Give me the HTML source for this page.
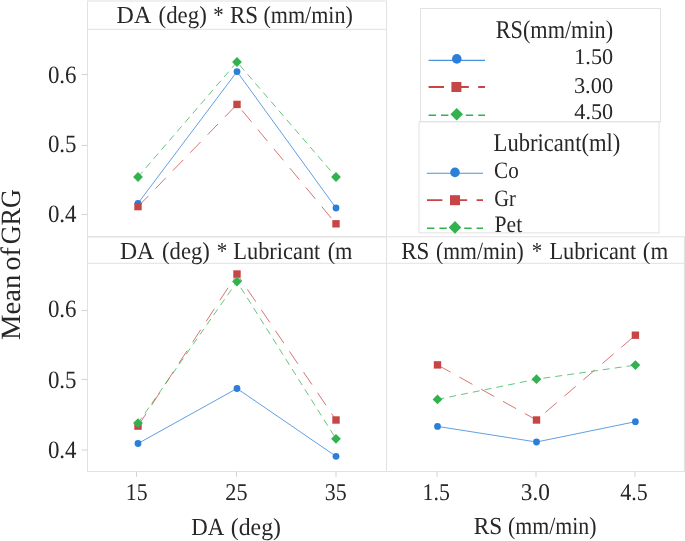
<!DOCTYPE html>
<html><head><meta charset="utf-8"><style>
html,body{margin:0;padding:0;background:#fff;width:685px;height:541px;overflow:hidden}
</style></head><body>
<svg width="685" height="541" viewBox="0 0 685 541" style="display:block;text-rendering:geometricPrecision">
<rect x="0" y="0" width="685" height="541" fill="#fff"/>
<g fill="none" stroke="#e2e2e2" stroke-width="1">
<rect x="87.5" y="1.0" width="299.0" height="235.8"/>
<line x1="87.5" y1="29.3" x2="386.5" y2="29.3"/>
<rect x="87.5" y="236.8" width="299.0" height="234.7"/>
<rect x="386.5" y="236.8" width="297.9" height="234.7"/>
<line x1="87.5" y1="263.3" x2="684.4" y2="263.3"/>
<rect x="420.5" y="8.5" width="240" height="113.2"/>
<rect x="419" y="121.7" width="240" height="111.2"/>
</g>
<g stroke="#d3d3d3" stroke-width="1">
<line x1="81.6" y1="74.5" x2="87.5" y2="74.5"/>
<line x1="81.6" y1="145.4" x2="87.5" y2="145.4"/>
<line x1="81.6" y1="214.4" x2="87.5" y2="214.4"/>
<line x1="81.6" y1="310.4" x2="87.5" y2="310.4"/>
<line x1="81.6" y1="379.4" x2="87.5" y2="379.4"/>
<line x1="81.6" y1="450.0" x2="87.5" y2="450.0"/>
<line x1="136.5" y1="471.5" x2="136.5" y2="476.8"/>
<line x1="236.5" y1="471.5" x2="236.5" y2="476.8"/>
<line x1="336" y1="471.5" x2="336" y2="476.8"/>
<line x1="437" y1="471.5" x2="437" y2="476.8"/>
<line x1="536" y1="471.5" x2="536" y2="476.8"/>
<line x1="635" y1="471.5" x2="635" y2="476.8"/>
</g>
<g font-family='"Liberation Serif", serif' fill="#272727" style="opacity:0.999">
<text x="47.88" y="82.80" font-size="25" textLength="28.65" lengthAdjust="spacingAndGlyphs">0.6</text>
<text x="47.88" y="151.80" font-size="25" textLength="28.65" lengthAdjust="spacingAndGlyphs">0.5</text>
<text x="47.88" y="222.40" font-size="25" textLength="28.65" lengthAdjust="spacingAndGlyphs">0.4</text>
<text x="47.88" y="316.90" font-size="25" textLength="28.65" lengthAdjust="spacingAndGlyphs">0.6</text>
<text x="47.88" y="387.60" font-size="25" textLength="28.65" lengthAdjust="spacingAndGlyphs">0.5</text>
<text x="47.88" y="458.30" font-size="25" textLength="28.65" lengthAdjust="spacingAndGlyphs">0.4</text>
<text x="125.78" y="500.30" font-size="24" textLength="21.83" lengthAdjust="spacingAndGlyphs">15</text>
<text x="225.27" y="500.30" font-size="24" textLength="22.25" lengthAdjust="spacingAndGlyphs">25</text>
<text x="324.79" y="500.30" font-size="24" textLength="21.93" lengthAdjust="spacingAndGlyphs">35</text>
<text x="422.58" y="500.30" font-size="24" textLength="27.33" lengthAdjust="spacingAndGlyphs">1.5</text>
<text x="520.83" y="500.30" font-size="24" textLength="29.14" lengthAdjust="spacingAndGlyphs">3.0</text>
<text x="620.30" y="500.30" font-size="24" textLength="27.52" lengthAdjust="spacingAndGlyphs">4.5</text>
<text x="191.17" y="534.50" font-size="24.5" textLength="33.0" lengthAdjust="spacingAndGlyphs">DA</text><text x="230.83" y="534.50" font-size="24.5" textLength="50.15" lengthAdjust="spacingAndGlyphs">(deg)</text>
<text x="473.75" y="534.30" font-size="24.5" textLength="28.47" lengthAdjust="spacingAndGlyphs">RS</text><text x="508.01" y="534.30" font-size="24.5" textLength="88.51" lengthAdjust="spacingAndGlyphs">(mm/min)</text>
<text x="116.62" y="23.00" font-size="24.5" textLength="34.66" lengthAdjust="spacingAndGlyphs">DA</text><text x="158.57" y="23.00" font-size="24.5" textLength="48.19" lengthAdjust="spacingAndGlyphs">(deg)</text><text x="213.15" y="23.00" font-size="24.5" textLength="10.41" lengthAdjust="spacingAndGlyphs">*</text><text x="229.96" y="23.00" font-size="24.5" textLength="28.15" lengthAdjust="spacingAndGlyphs">RS</text><text x="263.50" y="23.00" font-size="24.5" textLength="89.22" lengthAdjust="spacingAndGlyphs">(mm/min)</text>
<text x="119.93" y="258.80" font-size="24.5" textLength="34.25" lengthAdjust="spacingAndGlyphs">DA</text><text x="162.08" y="258.80" font-size="24.5" textLength="47.77" lengthAdjust="spacingAndGlyphs">(deg)</text><text x="216.84" y="258.80" font-size="24.5" textLength="10.54" lengthAdjust="spacingAndGlyphs">*</text><text x="233.29" y="258.80" font-size="24.5" textLength="87.04" lengthAdjust="spacingAndGlyphs">Lubricant</text><text x="327.69" y="258.80" font-size="24.5" textLength="24.81" lengthAdjust="spacingAndGlyphs">(m</text>
<text x="401.26" y="258.50" font-size="24.5" textLength="28.15" lengthAdjust="spacingAndGlyphs">RS</text><text x="436.12" y="258.50" font-size="24.5" textLength="87.6" lengthAdjust="spacingAndGlyphs">(mm/min)</text><text x="531.75" y="258.50" font-size="24.5" textLength="10.41" lengthAdjust="spacingAndGlyphs">*</text><text x="549.39" y="258.50" font-size="24.5" textLength="86.84" lengthAdjust="spacingAndGlyphs">Lubricant</text><text x="642.87" y="258.50" font-size="24.5" textLength="25.33" lengthAdjust="spacingAndGlyphs">(m</text>
<text x="495.73" y="37.50" font-size="25.5" textLength="117.4" lengthAdjust="spacingAndGlyphs">RS(mm/min)</text>
<text x="574.22" y="64.40" font-size="22.5" textLength="38.95" lengthAdjust="spacingAndGlyphs">1.50</text>
<text x="573.90" y="92.50" font-size="22.5" textLength="39.27" lengthAdjust="spacingAndGlyphs">3.00</text>
<text x="574.30" y="118.60" font-size="22.5" textLength="38.87" lengthAdjust="spacingAndGlyphs">4.50</text>
<text x="493.61" y="151.20" font-size="25.5" textLength="126.7" lengthAdjust="spacingAndGlyphs">Lubricant(ml)</text>
<text x="494.10" y="177.60" font-size="23.5" textLength="24.59" lengthAdjust="spacingAndGlyphs">Co</text>
<text x="494.13" y="205.80" font-size="23.5" textLength="21.59" lengthAdjust="spacingAndGlyphs">Gr</text>
<text x="494.58" y="232.20" font-size="23.5" textLength="27.65" lengthAdjust="spacingAndGlyphs">Pet</text>
<g transform="translate(20,0) rotate(-90)"><text x="-340.03" y="0.00" font-size="28" textLength="65.41" lengthAdjust="spacingAndGlyphs">Mean</text><text x="-270.40" y="0.00" font-size="28" textLength="23.33" lengthAdjust="spacingAndGlyphs">of</text><text x="-244.33" y="0.00" font-size="28" textLength="55.18" lengthAdjust="spacingAndGlyphs">GRG</text></g>
</g>
<path d="M138 203.3 L237 71.6 L336 208" fill="none" stroke="#2c7fd8" stroke-width="1.0" stroke-opacity="0.75"/><circle cx="138" cy="203.3" r="3.4" fill="#2c7fd8"/><circle cx="237" cy="71.6" r="3.4" fill="#2c7fd8"/><circle cx="336" cy="208" r="3.4" fill="#2c7fd8"/>
<path d="M138 206.6 L237 104.4 L336 223.8" fill="none" stroke="#c84545" stroke-width="1.0" stroke-opacity="0.75" stroke-dasharray="15 10"/><rect x="134.30" y="202.90" width="7.4" height="7.4" fill="#c84545"/><rect x="233.30" y="100.70" width="7.4" height="7.4" fill="#c84545"/><rect x="332.30" y="220.10" width="7.4" height="7.4" fill="#c84545"/>
<path d="M138 177 L237 62 L336 177" fill="none" stroke="#31b24f" stroke-width="1.0" stroke-opacity="0.75" stroke-dasharray="7 5"/><path d="M138 172.1L142.9 177L138 181.9L133.1 177Z" fill="#31b24f"/><path d="M237 57.1L241.9 62L237 66.9L232.1 62Z" fill="#31b24f"/><path d="M336 172.1L340.9 177L336 181.9L331.1 177Z" fill="#31b24f"/>
<path d="M138 443.5 L237 388.5 L336 456.3" fill="none" stroke="#2c7fd8" stroke-width="1.0" stroke-opacity="0.75"/><circle cx="138" cy="443.5" r="3.4" fill="#2c7fd8"/><circle cx="237" cy="388.5" r="3.4" fill="#2c7fd8"/><circle cx="336" cy="456.3" r="3.4" fill="#2c7fd8"/>
<path d="M138 426.1 L237 274 L336 420" fill="none" stroke="#c84545" stroke-width="1.0" stroke-opacity="0.75" stroke-dasharray="15 10"/><rect x="134.30" y="422.40" width="7.4" height="7.4" fill="#c84545"/><rect x="233.30" y="270.30" width="7.4" height="7.4" fill="#c84545"/><rect x="332.30" y="416.30" width="7.4" height="7.4" fill="#c84545"/>
<path d="M138 423.1 L237 281.6 L336 438.8" fill="none" stroke="#31b24f" stroke-width="1.0" stroke-opacity="0.75" stroke-dasharray="7 5"/><path d="M138 418.20000000000005L142.9 423.1L138 428.0L133.1 423.1Z" fill="#31b24f"/><path d="M237 276.70000000000005L241.9 281.6L237 286.5L232.1 281.6Z" fill="#31b24f"/><path d="M336 433.90000000000003L340.9 438.8L336 443.7L331.1 438.8Z" fill="#31b24f"/>
<path d="M437.5 426.4 L536.5 442 L635.4 421.7" fill="none" stroke="#2c7fd8" stroke-width="1.0" stroke-opacity="0.75"/><circle cx="437.5" cy="426.4" r="3.4" fill="#2c7fd8"/><circle cx="536.5" cy="442" r="3.4" fill="#2c7fd8"/><circle cx="635.4" cy="421.7" r="3.4" fill="#2c7fd8"/>
<path d="M437.5 364.9 L536.5 420 L635.4 335.2" fill="none" stroke="#c84545" stroke-width="1.0" stroke-opacity="0.75" stroke-dasharray="15 10"/><rect x="433.80" y="361.20" width="7.4" height="7.4" fill="#c84545"/><rect x="532.80" y="416.30" width="7.4" height="7.4" fill="#c84545"/><rect x="631.70" y="331.50" width="7.4" height="7.4" fill="#c84545"/>
<path d="M437.5 399.4 L536.5 379.2 L635.4 365.1" fill="none" stroke="#31b24f" stroke-width="1.0" stroke-opacity="0.75" stroke-dasharray="7 5"/><path d="M437.5 394.5L442.4 399.4L437.5 404.29999999999995L432.6 399.4Z" fill="#31b24f"/><path d="M536.5 374.3L541.4 379.2L536.5 384.09999999999997L531.6 379.2Z" fill="#31b24f"/><path d="M635.4 360.20000000000005L640.3 365.1L635.4 370.0L630.5 365.1Z" fill="#31b24f"/>
<line x1="428.6" y1="60.4" x2="485" y2="60.4" stroke="#2c7fd8" stroke-width="1.1" stroke-opacity="0.85"/><circle cx="456.8" cy="58.9" r="4.8" fill="#2c7fd8"/>
<line x1="428.6" y1="87" x2="485" y2="87" stroke="#c84545" stroke-width="1.8" stroke-opacity="1" stroke-dasharray="15.4 9.4"/><rect x="451.40" y="82.00" width="10" height="10" fill="#c84545"/>
<line x1="428.6" y1="115.3" x2="485" y2="115.3" stroke="#31b24f" stroke-width="1.6" stroke-opacity="1" stroke-dasharray="7.4 5"/><path d="M456.7 107.9L463.0 114.2L456.7 120.5L450.4 114.2Z" fill="#31b24f"/>
<line x1="426.8" y1="173.3" x2="483" y2="173.3" stroke="#2c7fd8" stroke-width="1.1" stroke-opacity="0.85"/><circle cx="455" cy="172.4" r="4.8" fill="#2c7fd8"/>
<line x1="427" y1="200.2" x2="483" y2="200.2" stroke="#c84545" stroke-width="1.8" stroke-opacity="1" stroke-dasharray="15.4 9.4"/><rect x="450.00" y="195.20" width="10" height="10" fill="#c84545"/>
<line x1="427" y1="228.2" x2="483" y2="228.2" stroke="#31b24f" stroke-width="1.6" stroke-opacity="1" stroke-dasharray="7.4 5"/><path d="M455 221.1L461.3 227.4L455 233.70000000000002L448.7 227.4Z" fill="#31b24f"/>
</svg>
</body></html>
